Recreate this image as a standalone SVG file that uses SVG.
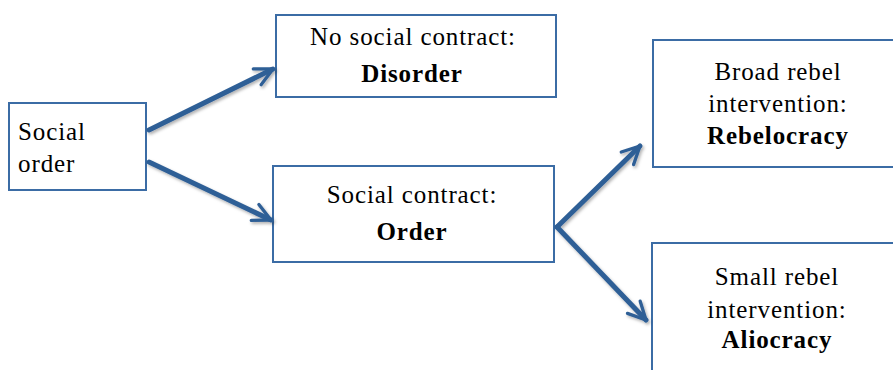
<svg xmlns="http://www.w3.org/2000/svg" width="893" height="370" viewBox="0 0 893 370">
<defs>
<style>
.box{fill:#fff;stroke:#3B6CA5;stroke-width:2}
.t{font-family:"Liberation Serif","DejaVu Serif",serif;font-size:25px;letter-spacing:0.9px;fill:#000}
.b{font-weight:bold}
.c{text-anchor:middle}
.conn{fill:none;stroke:#2F5F96;stroke-width:5;stroke-linecap:round;stroke-linejoin:round}
</style>
<marker id="ah" viewBox="0 0 10 10" refX="9" refY="5" markerWidth="4.4" markerHeight="4.4" orient="auto" markerUnits="strokeWidth">
<path d="M1,1 L9,5 L1,9" fill="none" stroke="#2F5F96" stroke-width="1.5" stroke-linecap="round" stroke-linejoin="round"/>
</marker>
<filter id="sh" x="-10%" y="-10%" width="130%" height="130%">
<feDropShadow dx="1.5" dy="2" stdDeviation="1.5" flood-color="#000" flood-opacity="0.3"/>
</filter>
</defs>
<rect width="893" height="370" fill="#fff"/>
<g id="n-social-order">
<rect class="box" x="9" y="103" width="137" height="87"/>
<text class="t" x="18" y="140">Social</text>
<text class="t" x="18" y="172">order</text>
</g>
<g id="n-disorder">
<rect class="box" x="276" y="15" width="280" height="82"/>
<text class="t c" x="413" y="45">No social contract:</text>
<text class="t b c" x="412" y="82">Disorder</text>
</g>
<g id="n-order">
<rect class="box" x="273" y="166" width="281" height="96"/>
<text class="t c" x="412" y="203">Social contract:</text>
<text class="t b c" x="412" y="240">Order</text>
</g>
<g id="n-rebelocracy">
<rect class="box" x="653" y="40" width="250" height="127"/>
<text class="t c" x="778" y="80">Broad rebel</text>
<text class="t c" x="778" y="112">intervention:</text>
<text class="t b c" x="778" y="144">Rebelocracy</text>
</g>
<g id="n-aliocracy">
<rect class="box" x="652" y="243" width="250" height="140"/>
<text class="t c" x="777" y="285">Small rebel</text>
<text class="t c" x="777" y="318">intervention:</text>
<text class="t b c" x="777" y="348">Aliocracy</text>
</g>
<g id="connectors" filter="url(#sh)">
<path class="conn" d="M149,130 L273,69" marker-end="url(#ah)"/>
<path class="conn" d="M149,162 L271,220" marker-end="url(#ah)"/>
<path class="conn" d="M557,227 L640,146" marker-end="url(#ah)"/>
<path class="conn" d="M557,227 L646,320" marker-end="url(#ah)"/>
</g>
</svg>
